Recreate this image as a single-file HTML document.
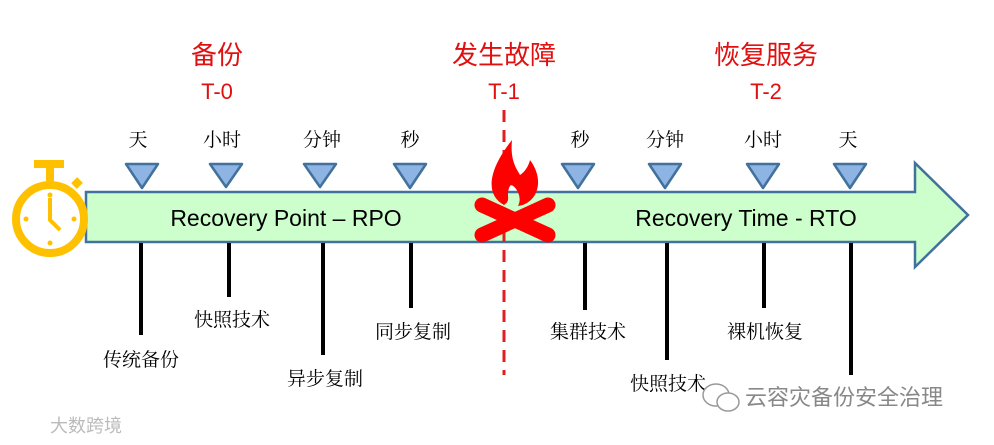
<!DOCTYPE html>
<html><head><meta charset="utf-8"><style>
body{margin:0;background:#fff}
svg text{font-family:"Liberation Sans","Noto Sans CJK SC",sans-serif}
.s{font-family:"Liberation Serif","Noto Serif CJK SC",serif}
</style></head><body>
<svg width="994" height="440" viewBox="0 0 994 440" xmlns="http://www.w3.org/2000/svg">
<polygon points="86,192 915,192 915,163 968,215 915,267 915,242 86,242" fill="#ccffcc" stroke="#41719c" stroke-width="2.5"/>
<line x1="504" y1="110" x2="504" y2="375" stroke="#e02020" stroke-width="3" stroke-dasharray="12,8"/>
<g fill="#8eb4e3" stroke="#41719c" stroke-width="2.5" stroke-linejoin="round">
<polygon points="126,164 158,164 142,188"/><polygon points="210,164 242,164 226,187"/>
<polygon points="304,164 336,164 320,187"/><polygon points="394,164 426,164 410,188"/>
<polygon points="562,164 594,164 578,188"/><polygon points="649,164 681,164 665,188"/>
<polygon points="747,164 779,164 763,188"/><polygon points="834,164 866,164 850,188"/>
</g>
<g stroke="#000" stroke-width="4">
<line x1="141" y1="243" x2="141" y2="335"/><line x1="229" y1="243" x2="229" y2="297"/>
<line x1="323" y1="243" x2="323" y2="355"/><line x1="411" y1="243" x2="411" y2="308"/>
<line x1="585" y1="243" x2="585" y2="310"/><line x1="667" y1="243" x2="667" y2="360"/>
<line x1="764" y1="243" x2="764" y2="308"/><line x1="851" y1="243" x2="851" y2="375"/>
</g>
<!-- stopwatch -->
<g stroke="#ffc000" fill="none" stroke-width="8">
<circle cx="50" cy="219" r="34"/>
<line x1="34" y1="164" x2="64" y2="164"/><line x1="50" y1="166" x2="50" y2="181"/>
<line x1="74" y1="186" x2="80" y2="180"/>
<polyline points="50,198 50,220 60,230" stroke-width="4"/>
</g>
<g fill="#ffc000"><circle cx="26" cy="219" r="2.5"/><circle cx="74" cy="219" r="2.5"/><circle cx="50" cy="243" r="2.5"/><circle cx="50" cy="195" r="2.5"/></g>
<!-- fire -->
<path d="M504,205 C485,195 488,170 512,140 C510,160 516,168 520,175 C528,170 530,160 530,160 C545,180 538,203 518,206 C524,195 512,182 510,186 C505,195 512,200 504,205Z" fill="#ff0000"/>
<g stroke="#ff0000" stroke-width="15" stroke-linecap="round"><line x1="482" y1="205" x2="548" y2="235"/><line x1="482" y1="235" x2="548" y2="205"/></g>
<g fill="#000" font-size="23" text-anchor="middle">
<text x="286" y="226">Recovery Point – RPO</text>
<text x="746" y="226">Recovery Time - RTO</text>
</g>
<g fill="#e01010" text-anchor="middle">
<text x="217" y="64" font-size="26">备份</text><text x="217" y="99" font-size="22">T-0</text>
<text x="504" y="64" font-size="26">发生故障</text><text x="504" y="99" font-size="22">T-1</text>
<text x="766" y="64" font-size="26">恢复服务</text><text x="766" y="99" font-size="22">T-2</text>
</g>
<g fill="#000" font-size="19" text-anchor="middle" class="s">
<text x="138" y="146" class="s">天</text><text x="222" y="146" class="s">小时</text><text x="322" y="146" class="s">分钟</text><text x="410" y="146" class="s">秒</text>
<text x="580" y="146" class="s">秒</text><text x="665" y="146" class="s">分钟</text><text x="763" y="146" class="s">小时</text><text x="848" y="146" class="s">天</text>
<text x="141" y="366" class="s">传统备份</text><text x="232" y="326" class="s">快照技术</text><text x="325" y="385" class="s">异步复制</text><text x="413" y="338" class="s">同步复制</text>
<text x="588" y="338" class="s">集群技术</text><text x="668" y="390" class="s">快照技术</text><text x="765" y="338" class="s">裸机恢复</text>
</g>
<g fill="#888" font-size="22">
<text x="745" y="405">云容灾备份安全治理</text>
<text x="50" y="432" font-size="18" fill="#bbb">大数跨境</text>
</g>
<g stroke="#999" fill="#fff" stroke-width="1.5"><ellipse cx="716" cy="395" rx="13" ry="11"/><ellipse cx="728" cy="402" rx="11" ry="9"/></g>
</svg>
</body></html>
